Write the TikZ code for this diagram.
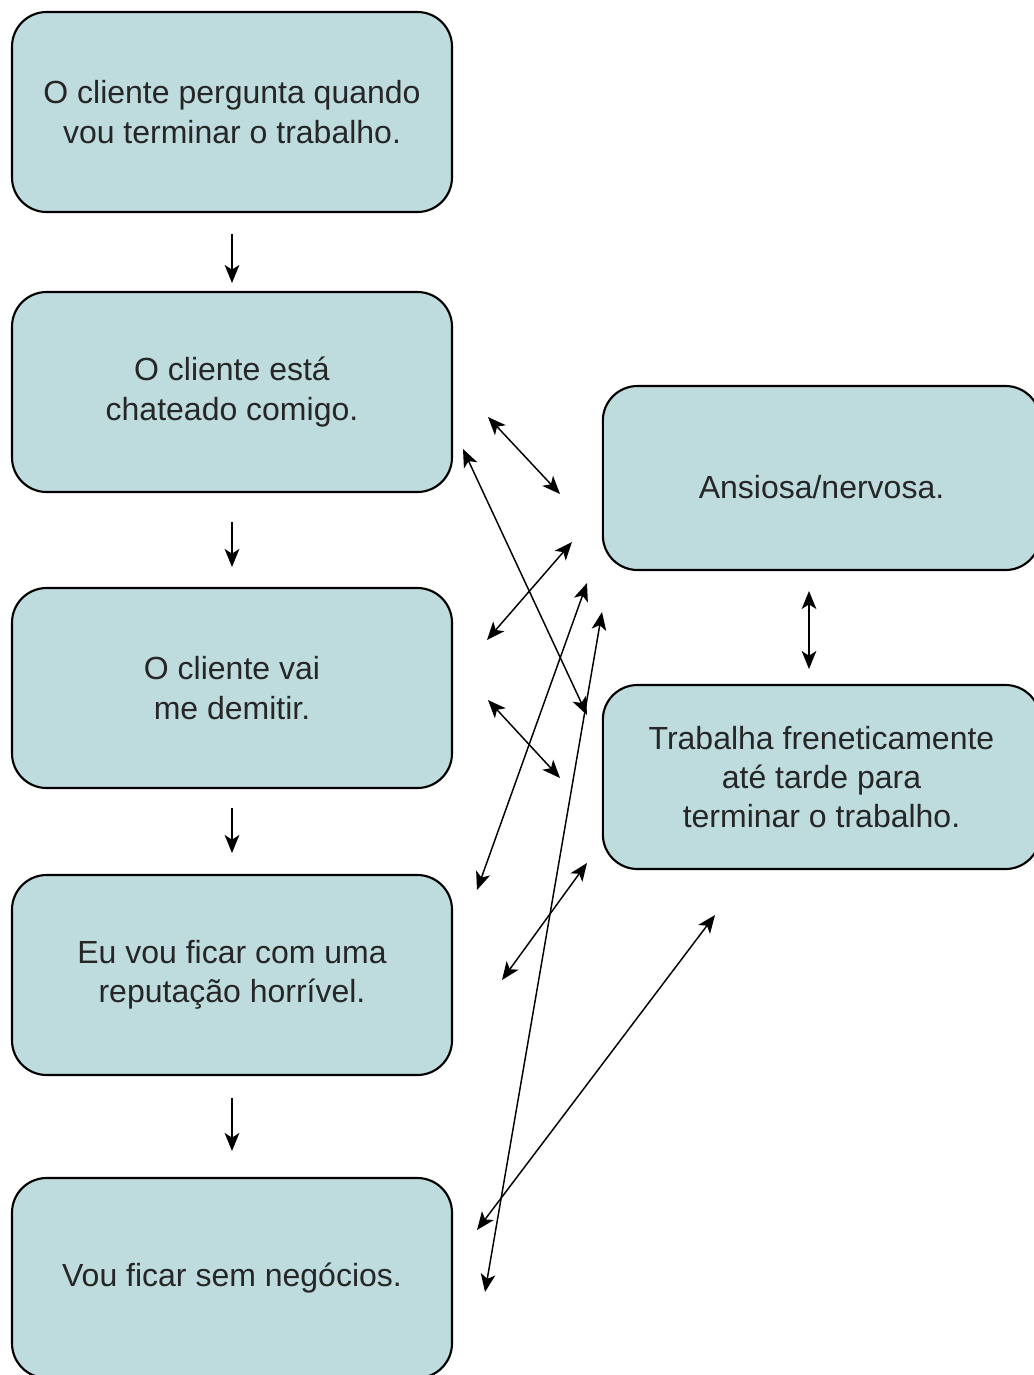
\documentclass[tikz,border=0pt]{standalone}
\usepackage{fontspec}
\setmainfont{Liberation Sans}
\usetikzlibrary{arrows.meta}
\definecolor{boxfill}{RGB}{190,220,221}
\begin{document}
\begin{tikzpicture}[x=0.75pt,y=-0.75pt,
  box/.style={draw=black, line width=1.6pt, fill=boxfill, rounded corners=26pt,
    inner sep=0pt, align=center, font=\fontsize{24}{29.5}\selectfont, text=black!85},
  leftbox/.style={box, minimum width=330pt, minimum height=150pt},
  rightbox/.style={box, minimum width=328pt, minimum height=138pt},
  tip/.tip={Stealth[length=13.5pt,width=11pt,inset=3.5pt]},
  link/.style={line width=1.1pt, tip-tip},
  down/.style={line width=1.1pt, -tip}]
\useasboundingbox (0,0) rectangle (1034,1375);
\clip (0,0) rectangle (1034,1375);

% chain of thoughts on the left
\node[leftbox] (b1) at (232,112) {O cliente pergunta quando\\vou terminar o trabalho.};
\node[leftbox] (b2) at (232,392) {O cliente está\\chateado comigo.};
\node[leftbox] (b3) at (232,688) {O cliente vai\\me demitir.};
\node[leftbox] (b4) at (232,975) {Eu vou ficar com uma\\reputação horrível.};
\node[leftbox] (b5) at (232,1278) {Vou ficar sem negócios.};

% feelings and behaviour on the right
\node[rightbox] (fa) at (821.5,478) {\raisebox{-15pt}[0pt][0pt]{Ansiosa/nervosa.}};
\node[rightbox] (fb) at (821.5,777) {Trabalha freneticamente\\até tarde para\\terminar o trabalho.};

% arrow ends
\coordinate (d1s) at (232,234);  \coordinate (d1e) at (232,283);
\coordinate (d2s) at (232,522);  \coordinate (d2e) at (232,567);
\coordinate (d3s) at (232,808);  \coordinate (d3e) at (232,853);
\coordinate (d4s) at (232,1098); \coordinate (d4e) at (232,1151);

\coordinate (vA) at (809,591); \coordinate (vB) at (809,669);

\coordinate (c1a) at (488,417);  \coordinate (c1b) at (560,494);
\coordinate (c2a) at (463,449);  \coordinate (c2b) at (587,715);
\coordinate (c3a) at (572,542);  \coordinate (c3b) at (487,640);
\coordinate (c4a) at (587,583);  \coordinate (c4b) at (477,890);
\coordinate (c5a) at (602,612);  \coordinate (c5b) at (485,1292);
\coordinate (c6a) at (488,700);  \coordinate (c6b) at (560,778);
\coordinate (c7a) at (587,863);  \coordinate (c7b) at (502,980);
\coordinate (c8a) at (715,915);  \coordinate (c8b) at (477,1230);

% downward steps
\draw[down] (d1s) -- (d1e);
\draw[down] (d2s) -- (d2e);
\draw[down] (d3s) -- (d3e);
\draw[down] (d4s) -- (d4e);

% two-way links
\draw[link] (vA) -- (vB);
\draw[link] (c1a) -- (c1b);
\draw[link] (c2a) -- (c2b);
\draw[link] (c3a) -- (c3b);
\draw[link] (c4a) -- (c4b);
\draw[link] (c5a) -- (c5b);
\draw[link] (c6a) -- (c6b);
\draw[link] (c7a) -- (c7b);
\draw[link] (c8a) -- (c8b);
\end{tikzpicture}
\end{document}
